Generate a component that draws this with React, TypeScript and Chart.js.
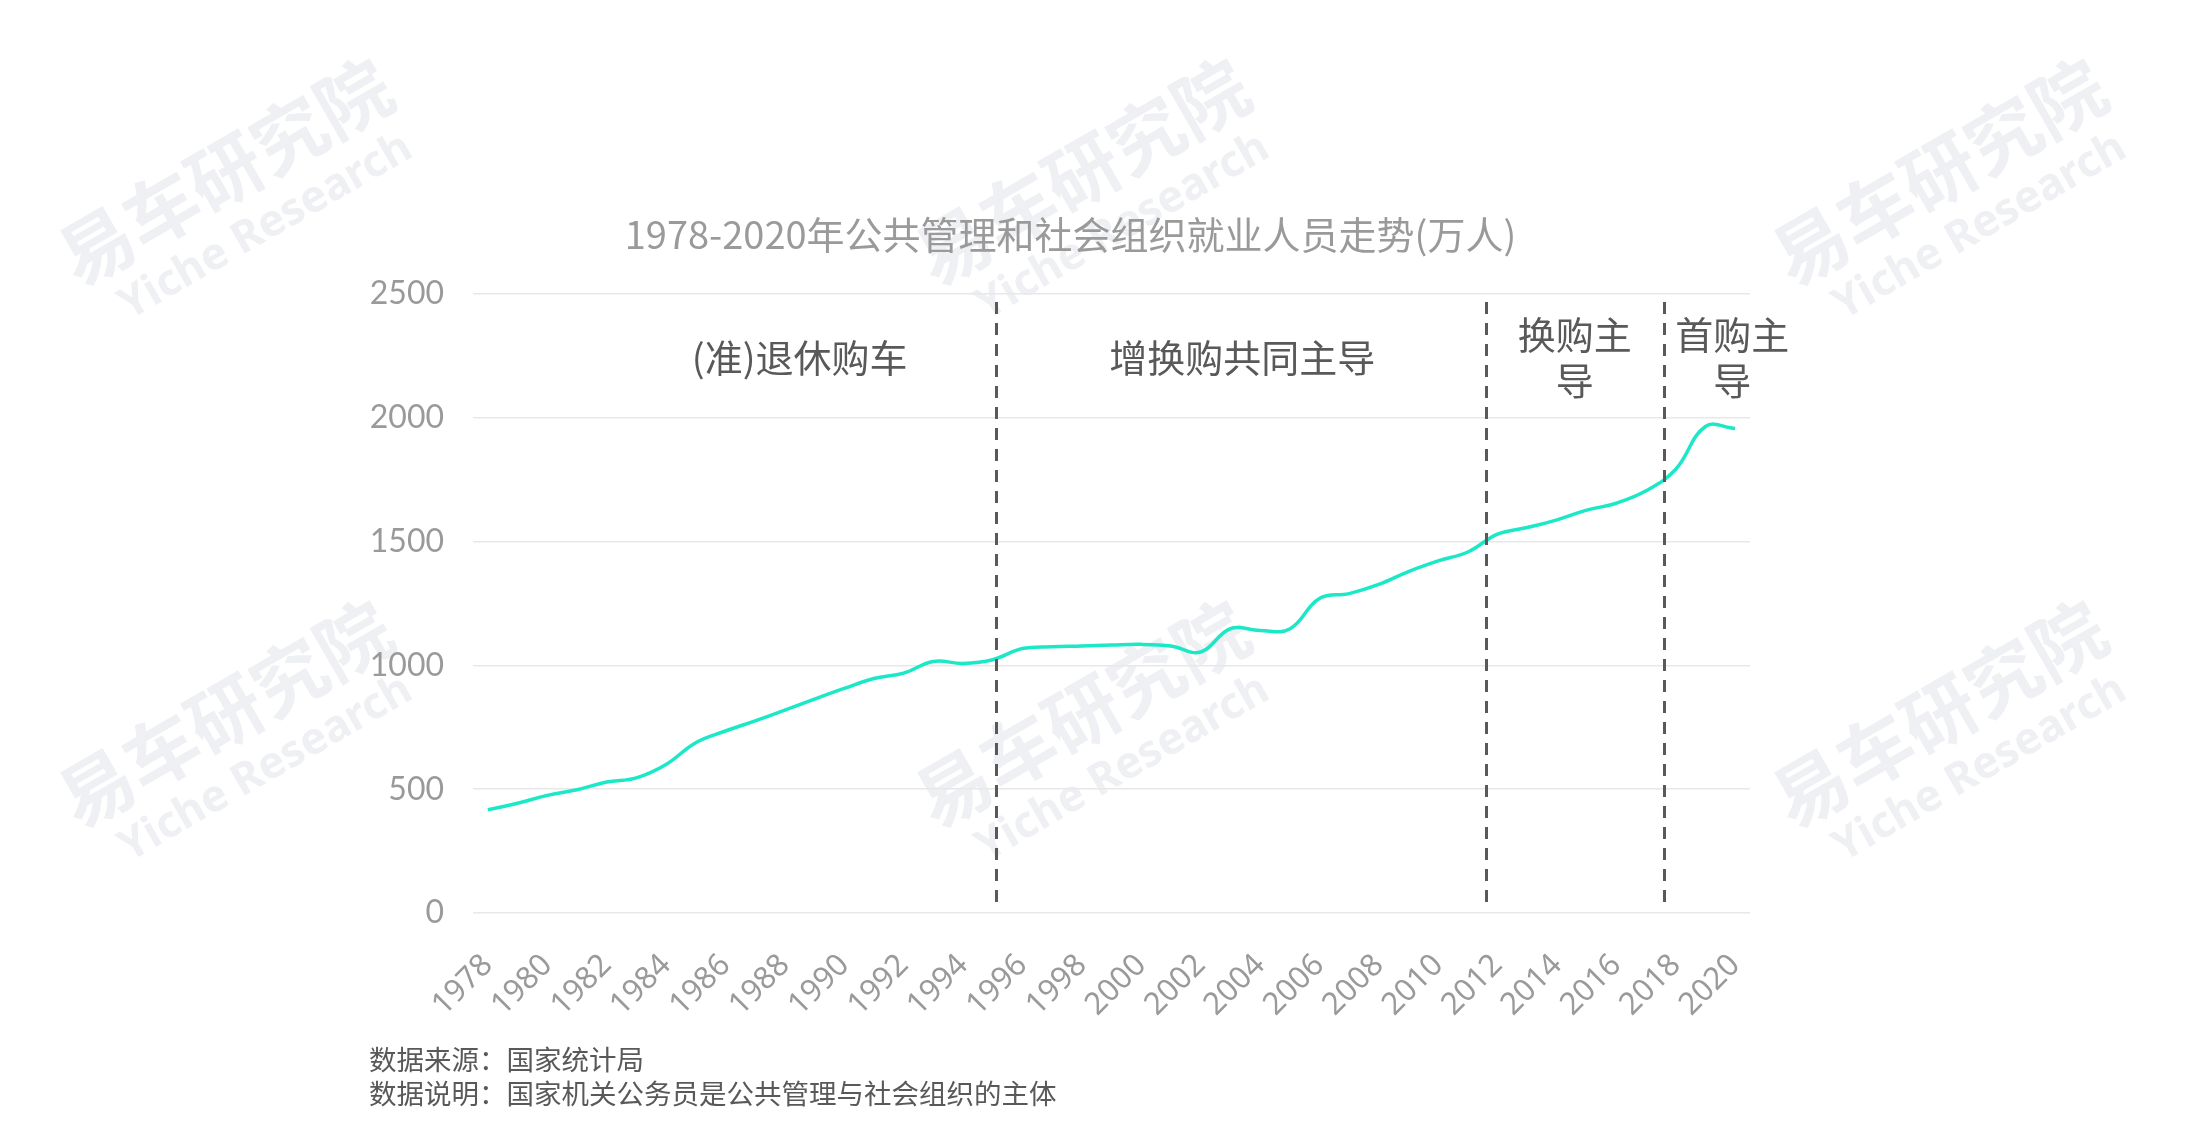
import React, { useEffect, useRef } from "react";
import { Chart, registerables } from "chart.js";

Chart.register(...registerables);

const TITLE = "1978-2020年公共管理和社会组织就业人员走势(万人)";

const years = [
  "1978", "1979", "1980", "1981", "1982", "1983", "1984", "1985", "1986", "1987",
  "1988", "1989", "1990", "1991", "1992", "1993", "1994", "1995", "1996", "1997",
  "1998", "1999", "2000", "2001", "2002", "2003", "2004", "2005", "2006", "2007",
  "2008", "2009", "2010", "2011", "2012", "2013", "2014", "2015", "2016", "2017",
  "2018", "2019", "2020",
];

const employees = [
  417, 443, 475, 498, 529, 546, 600, 688, 735, 776,
  819, 864, 907, 947, 969, 1016, 1008, 1023, 1068, 1075,
  1078, 1082, 1085, 1078, 1054, 1148, 1141, 1147, 1270, 1290,
  1327, 1379, 1422, 1458, 1530, 1557, 1588, 1627, 1655, 1705,
  1792, 1965, 1957,
];

const yTicks = [0, 500, 1000, 1500, 2000, 2500];

// phase boundaries (in years, on the category axis)
const phaseDividers = [1995.1, 2011.6, 2017.6];

// phase names, centred on a year position
const phaseLabels = [
  { lines: ["(准)退休购车"], year: 1988.5 },
  { lines: ["增换购共同主导"], year: 2003.4 },
  { lines: ["换购主", "导"], year: 2014.6 },
  { lines: ["首购主", "导"], year: 2019.9 },
];

const notes = [
  "数据来源：国家统计局",
  "数据说明：国家机关公务员是公共管理与社会组织的主体",
];

const CJK = "'Noto Sans CJK SC', 'Noto Sans', sans-serif";

const overlayPlugin = {
  id: "overlay",
  beforeDraw(chart: any) {
    const ctx = chart.ctx as CanvasRenderingContext2D;
    ctx.save();
    ctx.fillStyle = "#eff0f3";
    ctx.textAlign = "center";
    ctx.textBaseline = "middle";
    for (let r = 0; r < 2; r++) {
      for (let c = 0; c < 3; c++) {
        ctx.save();
        ctx.translate(217 + c * 857, 164 + r * 542);
        ctx.rotate((-30 * Math.PI) / 180);
        ctx.font = `bold 74px ${CJK}`;
        ctx.fillText("易车研究院", 0, 0);
        ctx.font = "bold 44px 'Noto Sans', sans-serif";
        ctx.fillText("Yiche Research", 8, 68);
        ctx.restore();
      }
    }
    ctx.restore();
  },
  afterDatasetsDraw(chart: any) {
    const ctx = chart.ctx as CanvasRenderingContext2D;
    const xs = chart.scales.x;
    const area = chart.chartArea;
    const first = Number(years[0]);
    ctx.save();
    ctx.strokeStyle = "#595959";
    ctx.lineWidth = 3;
    ctx.setLineDash([12, 9]);
    phaseDividers.forEach((yr) => {
      const px = Math.round(xs.getPixelForValue(yr - first)) + 0.5;
      ctx.beginPath();
      ctx.moveTo(px, area.top + 8);
      ctx.lineTo(px, area.bottom - 11);
      ctx.stroke();
    });
    ctx.setLineDash([]);
    ctx.fillStyle = "#595959";
    ctx.font = `38px ${CJK}`;
    ctx.textAlign = "center";
    ctx.textBaseline = "middle";
    phaseLabels.forEach((lab) => {
      const px = xs.getPixelForValue(lab.year - first);
      const lh = 46;
      const y0 = area.top + 64 - ((lab.lines.length - 1) * lh) / 2;
      lab.lines.forEach((t, i) => ctx.fillText(t, px, y0 + i * lh));
    });
    // chart title
    ctx.fillStyle = "#9a9a9a";
    ctx.font = `38px ${CJK}`;
    ctx.fillText(TITLE, (area.left + area.right) / 2 - 41, area.top - 59);
    ctx.restore();
  },
};

export default function App() {
  const ref = useRef<HTMLCanvasElement | null>(null);

  useEffect(() => {
    if (!ref.current) return;
    const chart = new Chart(ref.current, {
      type: "line",
      data: {
        labels: years,
        datasets: [
          {
            label: "公共管理和社会组织就业人员",
            data: employees,
            borderColor: "#1be8c6",
            backgroundColor: "#1be8c6",
            borderWidth: 3.5,
            pointRadius: 0,
            tension: 0.4,
            fill: false,
          },
        ],
      },
      options: {
        responsive: false,
        animation: false,
        devicePixelRatio: 1,
        layout: { padding: { left: 345, right: 451, top: 286, bottom: 0 } },
        plugins: {
          legend: { display: false },
          tooltip: { enabled: false },
          title: { display: false },
        },
        scales: {
          x: {
            offset: true,
            grid: { display: false, drawTicks: false },
            border: { display: false },
            ticks: {
              autoSkip: false,
              minRotation: 45,
              maxRotation: 45,
              color: "#9a9a9a",
              font: { family: "'Noto Sans', sans-serif", size: 31 },
              padding: 34,
              callback: (_v: any, i: number) => (i % 2 === 0 ? years[i] : ""),
            },
            afterFit: (scale: any) => {
              scale.height = 202;
            },
          },
          y: {
            min: yTicks[0],
            max: yTicks[yTicks.length - 1],
            afterBuildTicks: (scale: any) => {
              scale.ticks = yTicks.map((v) => ({ value: v }));
            },
            grid: { color: "#e8e8e8", lineWidth: 1.5, drawTicks: false },
            border: { display: false },
            ticks: {
              color: "#9a9a9a",
              font: { family: "Lato, 'Noto Sans', sans-serif", size: 32 },
              padding: 29,
              callback: (v: any) => String(v),
            },
            afterFit: (scale: any) => {
              scale.width = 120;
            },
          },
        },
      },
      plugins: [overlayPlugin],
    });
    return () => chart.destroy();
  }, []);

  return (
    <div style={{ position: "relative", width: 2193, height: 1107 }}>
      <canvas ref={ref} width={2193} height={1107} style={{ display: "block" }} />
      <div
        style={{
          position: "absolute",
          left: 361,
          top: 1033,
          fontFamily: CJK,
          fontSize: 27.5,
          lineHeight: "34px",
          color: "#595959",
          whiteSpace: "nowrap",
        }}
      >
        {notes.map((n) => (
          <div key={n}>{n}</div>
        ))}
      </div>
    </div>
  );
}
